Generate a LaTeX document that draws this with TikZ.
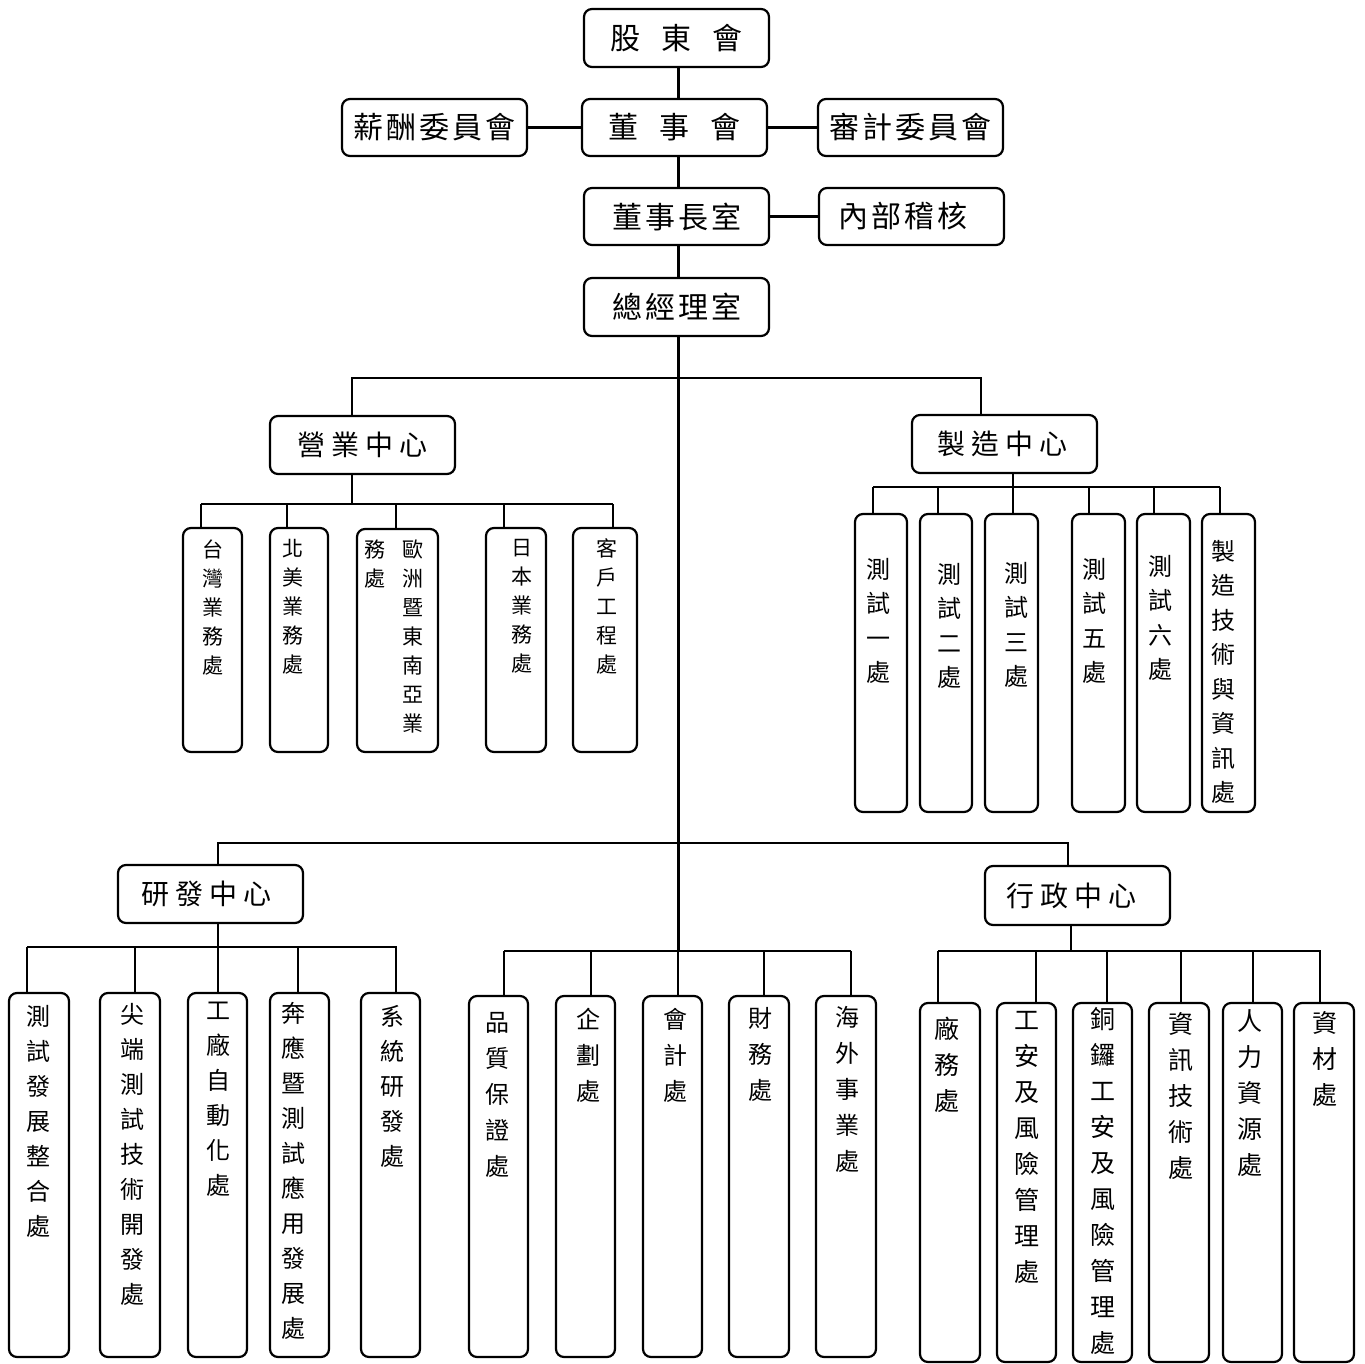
\documentclass[tikz,border=0pt]{standalone}
\usepackage{fontspec}
\setmainfont{Noto Sans CJK TC}
\usetikzlibrary{calc}
\makeatletter
\newcommand\spaced[2]{\def\sp@gap{#1}\sp@first#2\relax}
\def\sp@first#1{#1\sp@rest}
\def\sp@rest#1{\ifx\relax#1\else\kern\sp@gap\relax#1\expandafter\sp@rest\fi}
\makeatother
\newcommand\bx[7][]{%
  \pgfmathsetmacro\bxw{#5-#3-2}\pgfmathsetmacro\bxh{#6-#4-2}%
  \pgfmathsetmacro\bxx{(#3+#5)/2}\pgfmathsetmacro\bxy{(#4+#6)/2}%
  \node[box,minimum width=\bxw pt,minimum height=\bxh pt,#1] (#2) at (\bxx,\bxy) {#7};}
\newcommand\vt[6]{%
  \pgfmathsetmacro\vty{#3-0.42*#4}%
  \node[vtx,font=\fontsize{#4}{#5}\selectfont] (#1) at (#2,\vty) {#6};}
\begin{document}
\begin{tikzpicture}[x=1pt,y=-1pt,
  box/.style={draw,line width=2.2pt,rounded corners=8pt,inner sep=0pt},
  vtx/.style={align=center,inner sep=0pt,anchor=north},
  big/.style={font=\fontsize{30}{36}\selectfont},
  ctr/.style={font=\fontsize{28}{34}\selectfont},
  thk/.style={line width=3pt},
  mid/.style={line width=2.2pt},
  thn/.style={line width=1.6pt}]
\useasboundingbox (0,0) rectangle (1365,1364);
% ---- top boxes
\bx[big]{sh}{583}{8}{770}{68}{\spaced{21pt}{股東會}}
\bx[big]{bd}{581}{98}{768}{157}{\spaced{21pt}{董事會}}
\bx[big]{pay}{341}{98}{528}{157}{\spaced{3pt}{薪酬委員會}}
\bx[big]{aud}{817}{98}{1004}{157}{\spaced{3pt}{審計委員會}}
\bx[big]{ch}{583}{187}{770}{246}{\spaced{3pt}{董事長室}}
\bx[big]{ia}{818}{187}{1005}{246}{\spaced{3pt}{內部稽核}\kern18pt}
\bx[big]{gm}{583}{277}{770}{337}{\spaced{3pt}{總經理室}}
% ---- centers
\bx[ctr]{sales}{269}{415}{456}{475}{\spaced{6pt}{營業中心}}
\bx[ctr]{mfg}{911}{414}{1098}{474}{\spaced{6pt}{製造中心}\kern4pt}
\bx[ctr]{rd}{117}{864}{304}{924}{\spaced{6pt}{研發中心}\kern8pt}
\bx[ctr]{adm}{984}{865}{1171}{926}{\spaced{6pt}{行政中心}\kern12pt}
% ---- sales units
\bx{s1}{182}{527}{243}{753}{}
\bx{s2}{269}{527}{329}{753}{}
\bx{s3}{356}{528}{439}{753}{}
\bx{s4}{485}{527}{547}{753}{}
\bx{s5}{572}{527}{638}{753}{}
\vt{s1t}{213}{548}{21}{29}{台\\灣\\業\\務\\處}
\vt{s2t}{293}{548}{21}{29}{北\\美\\業\\務\\處}
\vt{s3t}{413}{548}{21}{29}{歐\\洲\\暨\\東\\南\\亞\\業}
\vt{s3u}{375}{548}{21}{29}{務\\處}
\vt{s4t}{522}{548}{21}{29}{日\\本\\業\\務\\處}
\vt{s5t}{607}{547}{21}{29}{客\\戶\\工\\程\\處}
% ---- manufacturing units
\bx{m1}{854}{513}{908}{813}{}
\bx{m2}{919}{513}{973}{813}{}
\bx{m3}{984}{513}{1039}{813}{}
\bx{m4}{1071}{513}{1126}{813}{}
\bx{m5}{1136}{513}{1191}{813}{}
\bx{m6}{1201}{513}{1256}{813}{}
\vt{m1t}{878}{568}{24}{34.5}{測\\試\\一\\處}
\vt{m2t}{949}{573}{24}{34.5}{測\\試\\二\\處}
\vt{m3t}{1016}{572}{24}{34.5}{測\\試\\三\\處}
\vt{m4t}{1094}{568}{24}{34.5}{測\\試\\五\\處}
\vt{m5t}{1160}{565}{24}{34.5}{測\\試\\六\\處}
\vt{m6t}{1223}{550}{24}{34.5}{製\\造\\技\\術\\與\\資\\訊\\處}
% ---- R&D units
\bx{r1}{8}{992}{70}{1358}{}
\bx{r2}{99}{992}{161}{1358}{}
\bx{r3}{187}{992}{248}{1358}{}
\bx{r4}{269}{992}{330}{1358}{}
\bx{r5}{360}{992}{421}{1358}{}
\vt{r1t}{38}{1015}{24}{35}{測\\試\\發\\展\\整\\合\\處}
\vt{r2t}{132}{1013}{24}{35}{尖\\端\\測\\試\\技\\術\\開\\發\\處}
\vt{r3t}{218}{1012}{24}{35}{工\\廠\\自\\動\\化\\處}
\vt{r4t}{293}{1012}{24}{35}{奔\\應\\暨\\測\\試\\應\\用\\發\\展\\處}
\vt{r5t}{392}{1015}{24}{35}{系\\統\\研\\發\\處}
% ---- directly reporting units
\bx{c1}{468}{995}{529}{1358}{}
\bx{c2}{555}{995}{616}{1358}{}
\bx{c3}{642}{995}{703}{1358}{}
\bx{c4}{728}{995}{790}{1358}{}
\bx{c5}{815}{995}{877}{1358}{}
\vt{c1t}{497}{1022}{24}{36}{品\\質\\保\\證\\處}
\vt{c2t}{588}{1018}{24}{36}{企\\劃\\處}
\vt{c3t}{675}{1018}{24}{36}{會\\計\\處}
\vt{c4t}{760}{1017}{24}{36}{財\\務\\處}
\vt{c5t}{847}{1016}{24}{36}{海\\外\\事\\業\\處}
% ---- admin units
\bx{a1}{919}{1002}{981}{1363}{}
\bx{a2}{996}{1002}{1057}{1363}{}
\bx{a3}{1072}{1002}{1133}{1363}{}
\bx{a4}{1148}{1002}{1210}{1363}{}
\bx{a5}{1222}{1002}{1283}{1363}{}
\bx{a6}{1293}{1002}{1355}{1363}{}
\vt{a1t}{947}{1027}{25}{36}{廠\\務\\處}
\vt{a2t}{1027}{1022}{25}{36}{工\\安\\及\\風\\險\\管\\理\\處}
\vt{a3t}{1103}{1018}{25}{36}{銅\\鑼\\工\\安\\及\\風\\險\\管\\理\\處}
\vt{a4t}{1181}{1023}{25}{36}{資\\訊\\技\\術\\處}
\vt{a5t}{1250}{1020}{25}{36}{人\\力\\資\\源\\處}
\vt{a6t}{1325}{1022}{25}{36}{資\\材\\處}
% ---- connectors: top
\coordinate (sp) at (678,0);
\draw[thk] (sh.south -| sp) -- (bd.north -| sp);
\draw[thk] (pay.east) -- (bd.west);
\draw[thk] (bd.east) -- (aud.west);
\draw[thk] (bd.south -| sp) -- (ch.north -| sp);
\draw[thk] (ch.east) -- (ia.west);
\draw[thk] (ch.south -| sp) -- (gm.north -| sp);
\coordinate (jc) at (678,951);
\draw[thk] (gm.south -| sp) -- (jc);
\draw[mid] (jc) -- (c3.north -| sp);
% ---- first bar
\coordinate (jS) at (352,378);
\coordinate (jM) at (981,378);
\draw[mid] (sales.north -| jS) -- (jS) -- (jM) -- (mfg.north -| jM);
% ---- sales
\coordinate (sb) at (352,504);
\draw[mid] (sales.south -| sb) -- (sb);
\draw[mid] (201,504) -- (613,504);
\foreach \x/\n in {201/s1,287/s2,396/s3,504/s4,613/s5}
  \draw[thn] (\x,504) -- (\x,504 |- \n.north);
% ---- manufacturing
\coordinate (mb) at (1013,487);
\draw[mid] (mfg.south -| mb) -- (m3.north -| mb);
\draw[mid] (873,487) -- (1220,487);
\foreach \x/\n in {873/m1,938/m2,1089/m4,1154/m5,1220/m6}
  \draw[mid] (\x,487) -- (\x,487 |- \n.north);
% ---- second bar
\coordinate (jR) at (218,843);
\coordinate (jA) at (1068,843);
\draw[thn] (rd.north -| jR) -- (jR) -- (jA) -- (adm.north -| jA);
% ---- R&D
\coordinate (rb) at (218,947);
\draw[mid] (rd.south -| rb) -- (r3.north -| rb);
\draw[thn] (27,947) -- (397,947);
\foreach \x/\n in {27/r1,135/r2,298/r4,396/r5}
  \draw[thn] (\x,947) -- (\x,947 |- \n.north);
% ---- direct units
\draw[thn] (504,951) -- (851,951);
\foreach \x/\n in {504/c1,591/c2,764/c4,851/c5}
  \draw[thn] (\x,951) -- (\x,951 |- \n.north);
% ---- admin
\coordinate (ab) at (1071,951);
\draw[thn] (adm.south -| ab) -- (ab);
\draw[thn] (938,951) -- (1321,951);
\foreach \x/\n in {938/a1,1036/a2,1107/a3,1181/a4,1253/a5,1320/a6}
  \draw[thn] (\x,951) -- (\x,951 |- \n.north);
\end{tikzpicture}
\end{document}
